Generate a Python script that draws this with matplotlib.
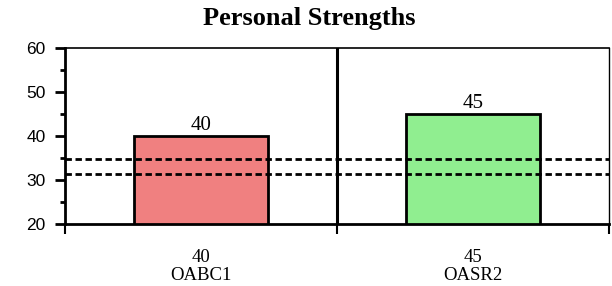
import matplotlib
matplotlib.use("Agg")
import matplotlib.pyplot as plt
from matplotlib.ticker import MultipleLocator, FixedLocator

# data
categories = ["OABC1", "OASR2"]
scores = [40, 45]
bar_colors = ["#F08080", "#90EE90"]
ref_lines = [34.7, 31.4]
title = "Personal Strengths"

fig = plt.figure(figsize=(6.12, 2.86), dpi=100)
ax = fig.add_axes([0.1062, 0.2168, 0.8889, 0.6154])

xs = [i + 0.5 for i in range(len(categories))]
ax.bar(xs, scores, width=0.49, bottom=0, color=bar_colors,
       edgecolor="black", linewidth=2, zorder=2)

for x, v in zip(xs, scores):
    ax.text(x, v + 0.3, str(v), ha="center", va="bottom",
            fontsize=15, family="Liberation Serif", zorder=4)

for v in ref_lines:
    ax.axhline(v, color="black", lw=2, dashes=(2.3, 1.3), zorder=3)

# separator between the categories
ax.axvline(1, color="black", lw=2.2, zorder=3)

ax.set_xlim(0, len(categories))
ax.set_ylim(20, 60)

ax.yaxis.set_major_locator(MultipleLocator(10))
ax.yaxis.set_minor_locator(MultipleLocator(5))
ax.tick_params(axis="y", which="major", length=7, width=2, pad=7,
               labelsize=12.5)
ax.tick_params(axis="y", which="minor", length=3.5, width=2)
for lab in ax.get_yticklabels():
    lab.set_family("Liberation Sans")

ax.xaxis.set_major_locator(FixedLocator(xs))
ax.set_xticklabels([f"{v}\n{c}" for v, c in zip(scores, categories)],
                   family="Liberation Serif", fontsize=13.5, linespacing=1.05)
ax.xaxis.set_minor_locator(FixedLocator(list(range(len(categories) + 1))))
ax.tick_params(axis="x", which="major", length=0, pad=18)
ax.tick_params(axis="x", which="minor", length=7, width=1.5)

ax.spines["left"].set_linewidth(2)
ax.spines["bottom"].set_linewidth(2)
ax.spines["top"].set_linewidth(1.2)
ax.spines["right"].set_linewidth(1)

fig.text(0.506, 0.935, title, ha="center", va="center", fontsize=19,
         fontweight="bold", family="Liberation Serif")

fig.savefig("out.png", dpi=100)
